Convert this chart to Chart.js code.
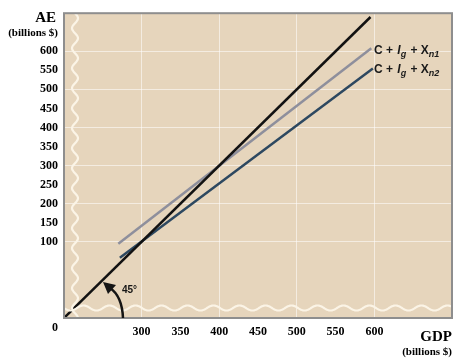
<!DOCTYPE html>
<html>
<head>
<meta charset="utf-8">
<script src="https://cdn.jsdelivr.net/npm/chart.js@4.4.0/dist/chart.umd.min.js"></script>
<style>
  html, body { margin: 0; padding: 0; background: #fff; }
  #wrap { width: 458px; height: 363px; }
</style>
</head>
<body>
<div id="wrap"><canvas id="grafica" width="458" height="363"></canvas></div>
<script>
// datos
const nombresLineas = ['45°', 'C + Ig + Xn1', 'C + Ig + Xn2'];
const pibLinea45 = [200, 595];
const gaLinea45 = [-100, 690];
const pibXn1 = [270, 596];
const gaXn1 = [95, 608];
const pibXn2 = [272, 598];
const gaXn2 = [58, 555];
const ticksPib = [300, 350, 400, 450, 500, 550, 600];
const ticksGa = [100, 150, 200, 250, 300, 350, 400, 450, 500, 550, 600];

const colores = ['#121212', '#8e8f9c', '#2d4860'];
const fuenteSerif = "'Liberation Serif', 'DejaVu Serif', serif";
const fuenteSans = "'Liberation Sans', Arial, sans-serif";

function puntos(xs, ys) {
    return xs.map((x, i) => ({ x: x, y: ys[i] }));
}

// fondo, ondas de corte del eje, flecha y rotulos
const decoracion = {
    id: 'decoracion',
    beforeDraw(chart) {
        const { ctx, chartArea: a } = chart;
        ctx.save();
        ctx.fillStyle = '#e6d5bc';
        ctx.fillRect(a.left, a.top, a.right - a.left, a.bottom - a.top);
        ctx.restore();
    },
    afterDatasetsDraw(chart) {
        const { ctx, chartArea: a } = chart;
        ctx.save();
        // ondas blancas
        ctx.strokeStyle = '#fbf4e6';
        ctx.lineWidth = 2.2;
        ctx.beginPath();
        const xv = a.left + 11;
        for (let y = a.top; y <= a.bottom; y++) {
            const x = xv + 3 * Math.sin((y - a.top) / 20 * 2 * Math.PI);
            if (y === a.top) ctx.moveTo(x, y); else ctx.lineTo(x, y);
        }
        ctx.stroke();
        ctx.beginPath();
        const yh = a.bottom - 10;
        for (let x = a.left; x <= a.right; x++) {
            const y = yh + 2.5 * Math.sin((x - a.left) / 26 * 2 * Math.PI);
            if (x === a.left) ctx.moveTo(x, y); else ctx.lineTo(x, y);
        }
        ctx.stroke();

        // borde
        ctx.strokeStyle = '#8e8e8e';
        ctx.lineWidth = 2;
        ctx.strokeRect(a.left, a.top, a.right - a.left, a.bottom - a.top);

        // flecha 45
        ctx.strokeStyle = '#151515';
        ctx.fillStyle = '#151515';
        ctx.lineWidth = 2.5;
        ctx.beginPath();
        ctx.moveTo(a.left + 59, a.bottom);
        ctx.quadraticCurveTo(a.left + 58, a.bottom - 22, a.left + 46, a.bottom - 30);
        ctx.stroke();
        ctx.beginPath();
        ctx.moveTo(a.left + 39, a.bottom - 36);
        ctx.lineTo(a.left + 52, a.bottom - 33);
        ctx.lineTo(a.left + 44, a.bottom - 24);
        ctx.closePath();
        ctx.fill();
        ctx.font = 'bold 10px ' + fuenteSans;
        ctx.textBaseline = 'middle';
        ctx.fillText('45°', a.left + 58, a.bottom - 28);

        // rotulos de las lineas
        function rotulo(x, y, sub) {
            ctx.fillStyle = '#1a1a1a';
            ctx.textBaseline = 'alphabetic';
            ctx.font = 'bold 12px ' + fuenteSans;
            let cx = x;
            ctx.fillText('C + ', cx, y); cx += ctx.measureText('C + ').width + 1;
            ctx.font = 'italic bold 12px ' + fuenteSans;
            ctx.fillText('I', cx, y); cx += ctx.measureText('I').width;
            ctx.font = 'italic bold 9px ' + fuenteSans;
            ctx.fillText('g', cx, y + 3); cx += ctx.measureText('g').width + 1;
            ctx.font = 'bold 12px ' + fuenteSans;
            ctx.fillText(' + X', cx, y); cx += ctx.measureText(' + X').width;
            ctx.font = 'italic bold 9px ' + fuenteSans;
            ctx.fillText(sub, cx, y + 3);
        }
        rotulo(374, 54, 'n1');
        rotulo(374, 73, 'n2');

        // titulos de ejes
        ctx.fillStyle = '#000';
        ctx.textAlign = 'right';
        ctx.font = 'bold 15px ' + fuenteSerif;
        ctx.fillText('AE', 56, 22);
        ctx.font = 'bold 11px ' + fuenteSerif;
        ctx.fillText('(billions $)', 58, 36);
        ctx.font = 'bold 15px ' + fuenteSerif;
        ctx.fillText('GDP', 452, 341);
        ctx.font = 'bold 11px ' + fuenteSerif;
        ctx.fillText('(billions $)', 452, 355);
        ctx.textAlign = 'center';
        ctx.font = 'bold 12px ' + fuenteSerif;
        ctx.fillText('0', 55, 331);
        ctx.restore();
    }
};

const ctx = document.getElementById('grafica').getContext('2d');
const miGrafica = new Chart(ctx, {
    type: 'scatter',
    data: {
        datasets: [
            { label: nombresLineas[0], data: puntos(pibLinea45, gaLinea45), borderColor: colores[0] },
            { label: nombresLineas[1], data: puntos(pibXn1, gaXn1), borderColor: colores[1] },
            { label: nombresLineas[2], data: puntos(pibXn2, gaXn2), borderColor: colores[2] }
        ].map(d => Object.assign(d, { showLine: true, pointRadius: 0, borderWidth: 2.5, fill: false }))
    },
    options: {
        responsive: false,
        animation: false,
        layout: { padding: { top: 13, right: 6, left: 0, bottom: 0 } },
        plugins: { legend: { display: false }, tooltip: { enabled: false } },
        scales: {
            x: {
                type: 'linear', min: 200, max: 700,
                afterBuildTicks: s => { s.ticks = ticksPib.map(v => ({ value: v })); },
                afterFit: s => { s.height = 45; },
                border: { display: false },
                grid: {
                    drawTicks: false,
                    color: c => (c.tick && c.tick.value % 100 === 0) ? 'rgba(255,255,255,0.55)' : 'rgba(0,0,0,0)'
                },
                ticks: { color: '#000', padding: 7, font: { family: fuenteSerif, size: 12, weight: 'bold' } }
            },
            y: {
                type: 'linear', min: -100, max: 700,
                afterBuildTicks: s => { s.ticks = ticksGa.map(v => ({ value: v })); },
                afterFit: s => { s.width = 64; },
                border: { display: false },
                grid: {
                    drawTicks: false,
                    color: c => (c.tick && c.tick.value % 100 === 0) ? 'rgba(255,255,255,0.55)' : 'rgba(0,0,0,0)'
                },
                ticks: { color: '#000', padding: 6, font: { family: fuenteSerif, size: 12, weight: 'bold' } }
            }
        }
    },
    plugins: [decoracion]
});
</script>
</body>
</html>
